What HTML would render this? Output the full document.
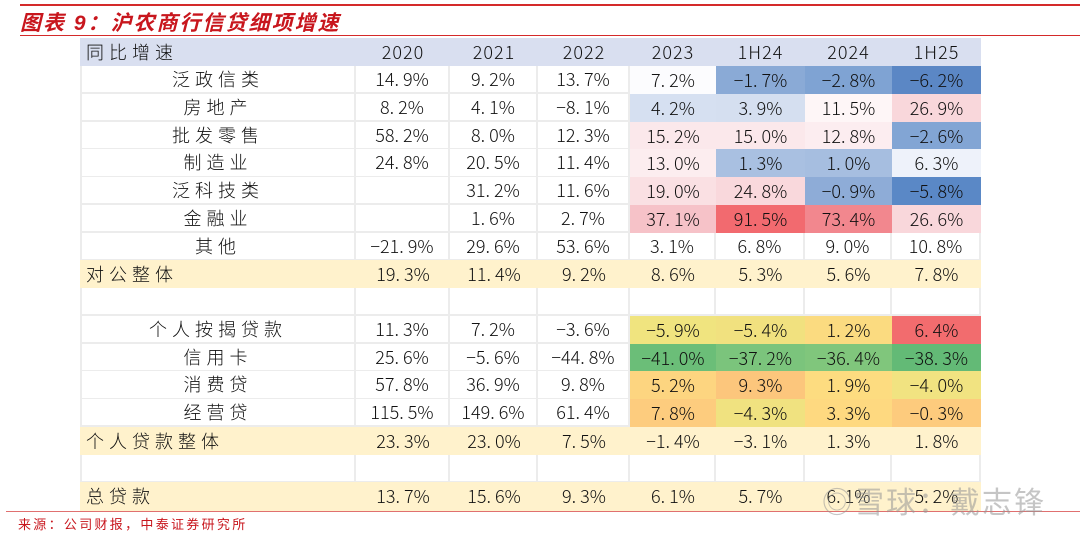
<!DOCTYPE html>
<html><head><meta charset="utf-8">
<style>
body{margin:0;width:1080px;height:532px;background:#fff;position:relative;overflow:hidden;font-family:"Liberation Sans","Noto Sans CJK SC",sans-serif;}
.c{position:absolute;box-sizing:border-box;display:flex;align-items:center;justify-content:center;font-size:18px;color:#111;letter-spacing:0px;font-family:"Noto Sans CJK SC",sans-serif;font-weight:300;}
.lbl{letter-spacing:5px;}
.w{border-right:2px solid #ececec;border-bottom:2px solid #ececec;}
</style></head><body>
<div style="position:absolute;left:20px;top:4px;width:1060px;height:2px;background:#d42a2a"></div>
<div style="position:absolute;left:20px;top:7px;font-size:21px;font-weight:bold;font-style:italic;color:#c8161d;letter-spacing:2px;font-family:'Liberation Sans','Noto Sans CJK SC',sans-serif;">图表 9：沪农商行信贷细项增速</div>
<div style="position:absolute;left:20px;top:35px;width:1060px;height:1px;background:#d42a2a"></div>
<div id="tbl"></div>
<div style="position:absolute;left:6px;top:511px;width:1074px;height:1px;background:#e07070"></div>
<div style="position:absolute;left:18px;top:514px;font-size:13px;color:#c8161d;letter-spacing:2.3px;font-family:'Noto Sans CJK SC',sans-serif;">来源：公司财报，中泰证券研究所</div>
<div style="position:absolute;left:822px;top:478px;font-size:30px;color:rgba(150,150,150,0.55);font-family:'Noto Sans CJK SC',sans-serif;letter-spacing:2px;">◎雪球：戴志锋</div>
<script>
const cols=["2020","2021","2022","2023","1H24","2024","1H25"];
const labels=["泛政信类","房地产","批发零售","制造业","泛科技类","金融业","其他","对公整体","","个人按揭贷款","信用卡","消费贷","经营贷","个人贷款整体","","总贷款"];
const rowType=["g","g","g","g","g","g","g","s","e","g","g","g","g","s","e","s"];
const values=[
["14.9%","9.2%","13.7%","7.2%","-1.7%","-2.8%","-6.2%"],
["8.2%","4.1%","-8.1%","4.2%","3.9%","11.5%","26.9%"],
["58.2%","8.0%","12.3%","15.2%","15.0%","12.8%","-2.6%"],
["24.8%","20.5%","11.4%","13.0%","1.3%","1.0%","6.3%"],
["","31.2%","11.6%","19.0%","24.8%","-0.9%","-5.8%"],
["","1.6%","2.7%","37.1%","91.5%","73.4%","26.6%"],
["-21.9%","29.6%","53.6%","3.1%","6.8%","9.0%","10.8%"],
["19.3%","11.4%","9.2%","8.6%","5.3%","5.6%","7.8%"],
["","","","","","",""],
["11.3%","7.2%","-3.6%","-5.9%","-5.4%","1.2%","6.4%"],
["25.6%","-5.6%","-44.8%","-41.0%","-37.2%","-36.4%","-38.3%"],
["57.8%","36.9%","9.8%","5.2%","9.3%","1.9%","-4.0%"],
["115.5%","149.6%","61.4%","7.8%","-4.3%","3.3%","-0.3%"],
["23.3%","23.0%","7.5%","-1.4%","-3.1%","1.3%","1.8%"],
["","","","","","",""],
["13.7%","15.6%","9.3%","6.1%","5.7%","6.1%","5.2%"]];
const heat=[
[null,null,null,"#fcfcfe","#8aaad6","#7fa3d3","#5b87c5"],
[null,null,null,"#d6e0f1","#d5dff0","#fef6f7","#f9d7db"],
[null,null,null,"#fbe8eb","#fbe8eb","#fcedf0","#82a5d4"],
[null,null,null,"#fcedef","#a9c0e1","#a6bee0","#eef2fa"],
[null,null,null,"#fae0e3","#f9d8dc","#8eacd7","#5a88c6"],
[null,null,null,"#f6c2c8","#f26a6f","#f2878e","#f9d7db"],
[],[],[],
[null,null,null,"#f0e47f","#f1e17f","#fbdb80","#f26c6e"],
[null,null,null,"#6bbe78","#7bc47c","#80c67c","#63ba76"],
[null,null,null,"#fdd580","#fcc67c","#fddc80","#f1e381"],
[null,null,null,"#fdcc7e","#f0e280","#fed980","#fdcb7d"],
[],[],[]];
const edges=[80,356,450,538,630,716,805,892,981];
const top0=38,hh=28,rh=27.75;
const T=document.getElementById('tbl');
function cell(x,y,w,h,txt,bg,cls,name){
 const d=document.createElement('div');
 d.className='c '+(cls||'');
 d.style.left=x+'px';d.style.top=y+'px';d.style.width=w+'px';d.style.height=h+'px';
 d.style.background=bg;d.textContent=txt;
 
 
 T.appendChild(d);return d;}
let h=cell(80,top0,edges[1]-80,hh,"同比增速","#d9dff0","lbl","header-label");h.style.justifyContent='flex-start';h.style.paddingLeft='6px';
cols.forEach((c,i)=>{const hd=cell(edges[i+1],top0,edges[i+2]-edges[i+1],hh,c,"#d9dff0","","header-"+c);hd.style.letterSpacing='1px';});
labels.forEach((lab,r)=>{
 const y=top0+hh+r*rh, t=rowType[r];
 const sum=t==='s';
 const bgBase=sum?"#fff2cc":"#fff";
 const l=cell(80,y,edges[1]-80,rh+0.5,lab,bgBase,"lbl"+(sum?"":" w"),"row-label-"+r);
 if(!sum) l.style.borderLeft='2px solid #ececec';
 if(sum){l.style.justifyContent='flex-start';l.style.paddingLeft='6px';}
 for(let i=0;i<7;i++){
  const hc=heat[r]&&heat[r][i];
  const bg=hc||bgBase;
  const v=values[r][i].replace('-','−').replace('.','. ');
  cell(edges[i+1],y,edges[i+2]-edges[i+1],rh+0.5,v,bg,(hc||sum)?"":"w","value-r"+r+"-"+cols[i]);
 }
});
</script>
</body></html>
